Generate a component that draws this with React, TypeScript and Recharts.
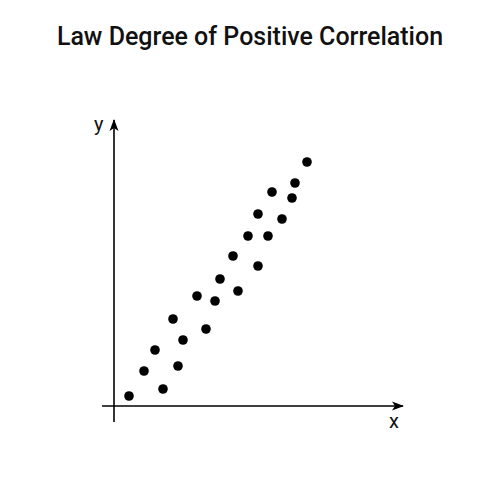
import { ScatterChart, Scatter, XAxis, YAxis, ReferenceLine } from "recharts";

// values (1 unit ~ 1px)
const xValues = [15, 49, 30, 64, 41, 69, 59, 92, 83, 101, 106, 124, 119, 144, 134, 154, 144, 168, 158, 178, 181, 193];
const yValues = [10, 17, 35, 40, 56, 66, 87, 77, 110, 105, 127, 115, 150, 140, 170, 170, 192, 187, 214, 208, 223, 244];

const points = xValues.map((x, i) => ({ x, y: yValues[i] }));

const Dot = (props: any) => <circle cx={props.cx} cy={props.cy} r={4.8} fill="#000" />;

export default function App() {
  return (
    <div style={{ position: "absolute", left: 0, top: 0, width: 500, height: 500, background: "#fff" }}>
      <div
        style={{
          position: "absolute",
          top: 22,
          width: 500,
          textAlign: "center",
          fontFamily: "Roboto, sans-serif",
          fontWeight: 500,
          fontSize: 25,
          color: "#111",
        }}
      >
        Law Degree of Positive Correlation
      </div>
      <ScatterChart width={500} height={500} margin={{ top: 120, right: 97, bottom: 78, left: 102 }}>
        <defs>
          <marker id="arrow" viewBox="0 0 12 10" refX="11" refY="5" markerWidth="12" markerHeight="10" markerUnits="userSpaceOnUse" orient="auto">
            <path d="M0,0.5 L12,5 L0,9.5 L3,5 z" fill="#000" />
          </marker>
        </defs>
        <XAxis type="number" dataKey="x" domain={[-12, 289]} hide />
        <YAxis type="number" dataKey="y" domain={[-16, 286]} hide />
        <ReferenceLine
          segment={[{ x: -12, y: 0 }, { x: 289, y: 0 }]}
          stroke="#000"
          strokeWidth={1.6}
          markerEnd="url(#arrow)"
          ifOverflow="visible"
        />
        <ReferenceLine
          segment={[{ x: 0, y: -16 }, { x: 0, y: 286 }]}
          stroke="#000"
          strokeWidth={1.6}
          markerEnd="url(#arrow)"
          ifOverflow="visible"
        />
        <Scatter data={points} shape={<Dot />} isAnimationActive={false} />
      </ScatterChart>
      <div style={{ position: "absolute", left: 94, top: 112, fontFamily: "Roboto, sans-serif", fontSize: 20, color: "#111" }}>y</div>
      <div style={{ position: "absolute", left: 389, top: 409, fontFamily: "Roboto, sans-serif", fontSize: 20, color: "#111" }}>x</div>
    </div>
  );
}
